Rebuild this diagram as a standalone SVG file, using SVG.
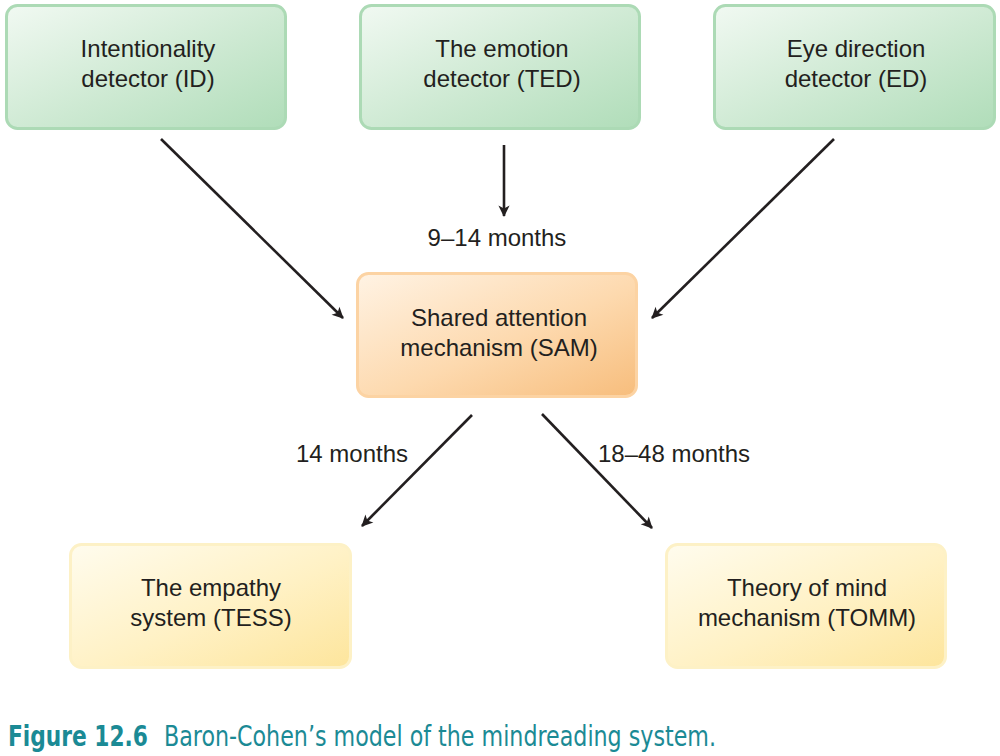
<svg xmlns="http://www.w3.org/2000/svg" width="1000" height="756" viewBox="0 0 1000 756">
<defs>
<linearGradient id="gGreen" x1="0" y1="0" x2="1" y2="1">
<stop offset="0" stop-color="#f1f9f2"/>
<stop offset="0.55" stop-color="#cde9d2"/>
<stop offset="1" stop-color="#b0ddb9"/>
</linearGradient>
<linearGradient id="gOrange" x1="0" y1="0" x2="1" y2="1">
<stop offset="0" stop-color="#fff3e4"/>
<stop offset="0.55" stop-color="#fdd9ae"/>
<stop offset="1" stop-color="#f7bd7c"/>
</linearGradient>
<linearGradient id="gYellow" x1="0" y1="0" x2="1" y2="1">
<stop offset="0" stop-color="#fffcee"/>
<stop offset="0.55" stop-color="#fff1c4"/>
<stop offset="1" stop-color="#fde59c"/>
</linearGradient>
<marker id="arr" viewBox="0 0 12 12" refX="10" refY="6" markerWidth="14" markerHeight="14" markerUnits="userSpaceOnUse" orient="auto">
<path d="M1,1.2 L10.8,6 L1,10.8 L3.5,6 Z" fill="#231f20"/>
</marker>
<style>
.box{stroke-width:3}
.green{fill:url(#gGreen);stroke:#acdab5}
.orange{fill:url(#gOrange);stroke:#fcd3a3}
.yellow{fill:url(#gYellow);stroke:#fdf1c6}
.lbl{font-family:"Liberation Sans",Arial,sans-serif;font-size:24px;fill:#231f20;text-anchor:middle}
.edge{font-family:"Liberation Sans",Arial,sans-serif;font-size:24px;fill:#231f20}
.conn{stroke:#231f20;stroke-width:2.6;fill:none;marker-end:url(#arr)}
.cap{font-family:"DejaVu Sans Condensed","Liberation Sans",sans-serif;font-size:29px;fill:#1b8a95}
</style>
</defs>
<rect width="1000" height="756" fill="#ffffff"/>
<g id="node-id">
<rect class="box green" x="6.5" y="5.5" width="279" height="123" rx="11"/>
<text class="lbl" x="148" y="57">Intentionality</text>
<text class="lbl" x="148" y="87">detector (ID)</text>
</g>
<g id="node-ted">
<rect class="box green" x="360.5" y="5.5" width="279" height="123" rx="11"/>
<text class="lbl" x="502" y="57">The emotion</text>
<text class="lbl" x="502" y="87">detector (TED)</text>
</g>
<g id="node-ed">
<rect class="box green" x="714.5" y="5.5" width="280" height="123" rx="11"/>
<text class="lbl" x="856" y="57">Eye direction</text>
<text class="lbl" x="856" y="87">detector (ED)</text>
</g>
<g id="node-sam">
<rect class="box orange" x="357.5" y="273.5" width="279" height="123" rx="11"/>
<text class="lbl" x="499" y="326">Shared attention</text>
<text class="lbl" x="499" y="356">mechanism (SAM)</text>
</g>
<g id="node-tess">
<rect class="box yellow" x="70.5" y="544.5" width="280" height="123" rx="11"/>
<text class="lbl" x="211" y="596">The empathy</text>
<text class="lbl" x="211" y="626">system (TESS)</text>
</g>
<g id="node-tomm">
<rect class="box yellow" x="666.5" y="544.5" width="279" height="123" rx="11"/>
<text class="lbl" x="807" y="596">Theory of mind</text>
<text class="lbl" x="807" y="626">mechanism (TOMM)</text>
</g>
<g id="connectors">
<line class="conn" x1="161" y1="139" x2="343" y2="318"/>
<line class="conn" x1="504" y1="145" x2="504" y2="216"/>
<line class="conn" x1="834" y1="139" x2="652" y2="318"/>
<line class="conn" x1="472" y1="415" x2="362" y2="526"/>
<line class="conn" x1="542" y1="414" x2="652" y2="528"/>
<text class="edge" x="497" y="246" text-anchor="middle">9–14 months</text>
<text class="edge" x="296" y="462">14 months</text>
<text class="edge" x="598" y="462">18–48 months</text>
</g>
<g id="caption">
<text class="cap" x="8" y="746" font-weight="bold" textLength="140" lengthAdjust="spacingAndGlyphs">Figure 12.6</text>
<text class="cap" x="164" y="746" textLength="552" lengthAdjust="spacingAndGlyphs">Baron-Cohen’s model of the mindreading system.</text>
</g>
</svg>
